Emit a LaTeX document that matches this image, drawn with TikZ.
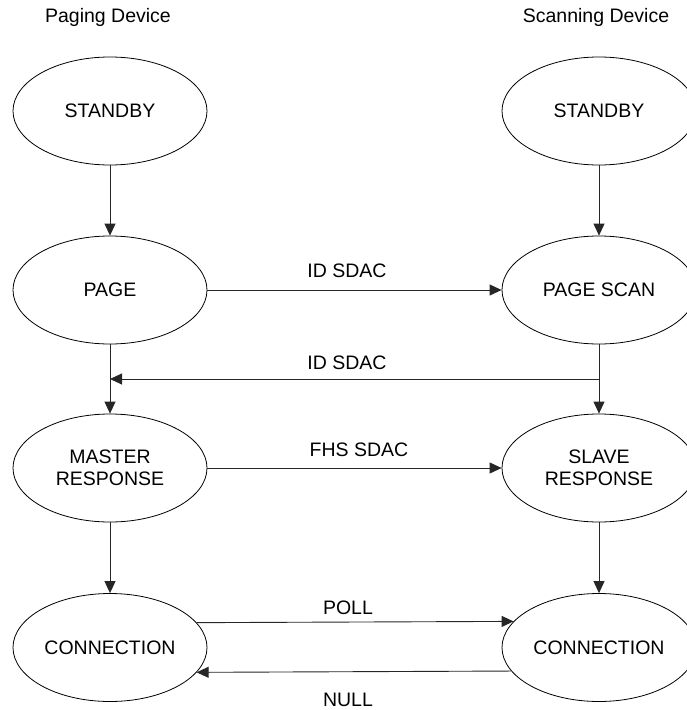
\documentclass[tikz,border=0pt]{standalone}
\usepackage{fontspec}
\setmainfont{Liberation Sans}
\usetikzlibrary{shapes.geometric,arrows.meta}
\begin{document}
\begin{tikzpicture}[x=1pt,y=-1pt,
  state/.style={draw=black,line width=0.8pt,ellipse,minimum width=194pt,minimum height=108pt,inner sep=0pt,align=center,font=\fontsize{19.5pt}{21.5pt}\selectfont},
  lbl/.style={font=\fontsize{19.5pt}{21.5pt}\selectfont,inner sep=0pt},
  arr/.style={draw=black!85,line width=0.9pt,-{Triangle[length=12pt,width=11pt]}},
  ln/.style={draw=black!85,line width=0.9pt}]
\useasboundingbox (0,0) rectangle (686,710);
\node[lbl] (tl) at (108,17) {Paging Device};
\node[lbl] (tr) at (596,17) {Scanning Device};
\node[state] (s1) at (110,111) {STANDBY};
\node[state] (s2) at (599,111) {STANDBY};
\node[state] (p1) at (110,290) {PAGE};
\node[state] (p2) at (599,290) {PAGE SCAN};
\node[state] (m1) at (110,468) {MASTER\\RESPONSE};
\node[state] (m2) at (599,468) {SLAVE\\RESPONSE};
\node[state] (c1) at (110,647.5) {CONNECTION};
\node[state] (c2) at (599,647.5) {CONNECTION};
\coordinate (r1) at (599,379);
\coordinate (l1) at (110,379);
\draw[arr] (s1) -- (p1);
\draw[arr] (s2) -- (p2);
\draw[arr] (p1) -- (m1);
\draw[arr] (p2) -- (m2);
\draw[arr] (m1) -- (c1);
\draw[arr] (m2) -- (c2);
\draw[arr] (p1.east) -- (p2.west);
\draw[arr] (r1) -- (l1);
\draw[arr] (m1.east) -- (m2.west);
\draw[arr] (c1.16.6) -- (c2.163.4);
\draw[arr] (c2.195.83) -- (c1.344.17);
\node[lbl] (a1) at (347,271) {ID SDAC};
\node[lbl] (a2) at (347,363) {ID SDAC};
\node[lbl] (a3) at (359,450) {FHS SDAC};
\node[lbl] (a4) at (348,608) {POLL};
\node[lbl] (a5) at (348,700) {NULL};
\end{tikzpicture}
\end{document}
